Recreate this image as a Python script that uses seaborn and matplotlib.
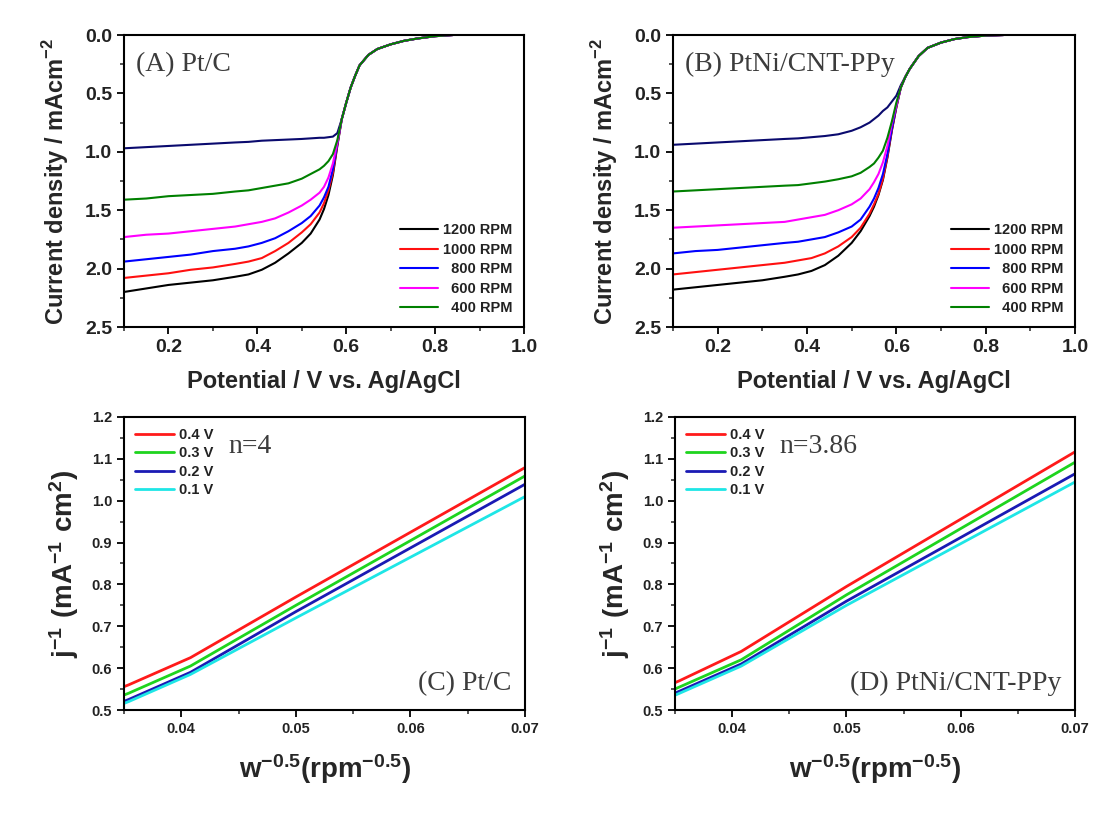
import numpy as np
import pandas as pd
import matplotlib
matplotlib.use("Agg")
import matplotlib.pyplot as plt
import seaborn as sns
from matplotlib.ticker import MultipleLocator, FormatStrFormatter

# ---------------- data: LSV curves (A) and (B) ----------------
potential = [0.10, 0.15, 0.20, 0.25, 0.30, 0.35, 0.38, 0.41, 0.44, 0.47, 0.50, 0.52,
             0.54, 0.55, 0.56, 0.57, 0.58, 0.59, 0.60, 0.61, 0.62, 0.63, 0.65, 0.67,
             0.70, 0.73, 0.76, 0.80, 0.84]

rpm_labels = ["1200 RPM", "1000 RPM", "800 RPM", "600 RPM", "400 RPM"]

# Pt/C
a_1200 = [2.20, 2.17, 2.14, 2.12, 2.10, 2.07, 2.05, 2.01, 1.95, 1.87, 1.78, 1.70,
          1.58, 1.49, 1.37, 1.20, 0.95, 0.72, 0.58, 0.45, 0.35, 0.26, 0.17, 0.12,
          0.08, 0.05, 0.03, 0.01, 0.00]
a_1000 = [2.08, 2.06, 2.04, 2.01, 1.99, 1.96, 1.94, 1.91, 1.85, 1.78, 1.69, 1.62,
          1.52, 1.44, 1.33, 1.18, 0.94, 0.72, 0.58, 0.45, 0.35, 0.26, 0.17, 0.12,
          0.08, 0.05, 0.03, 0.01, 0.00]
a_800 = [1.94, 1.92, 1.90, 1.88, 1.85, 1.83, 1.81, 1.78, 1.74, 1.68, 1.61, 1.55,
         1.46, 1.39, 1.30, 1.15, 0.93, 0.72, 0.58, 0.45, 0.35, 0.26, 0.17, 0.12,
         0.08, 0.05, 0.03, 0.01, 0.00]
a_600 = [1.73, 1.71, 1.70, 1.68, 1.66, 1.64, 1.62, 1.60, 1.57, 1.52, 1.46, 1.41,
         1.35, 1.30, 1.22, 1.10, 0.92, 0.72, 0.58, 0.45, 0.35, 0.26, 0.17, 0.12,
         0.08, 0.05, 0.03, 0.01, 0.00]
a_400 = [1.41, 1.40, 1.38, 1.37, 1.36, 1.34, 1.33, 1.31, 1.29, 1.27, 1.23, 1.19,
         1.15, 1.12, 1.08, 1.02, 0.90, 0.72, 0.58, 0.45, 0.35, 0.26, 0.17, 0.12,
         0.08, 0.05, 0.03, 0.01, 0.00]
a_low = [0.97, 0.96, 0.95, 0.94, 0.93, 0.92, 0.915, 0.905, 0.90, 0.895, 0.89, 0.885,
         0.88, 0.88, 0.875, 0.87, 0.84, 0.72, 0.58, 0.45, 0.35, 0.26, 0.17, 0.12,
         0.08, 0.05, 0.03, 0.01, 0.00]

# PtNi/CNT-PPy
b_1200 = [2.18, 2.16, 2.14, 2.12, 2.10, 2.07, 2.05, 2.02, 1.97, 1.89, 1.78, 1.68,
          1.55, 1.47, 1.37, 1.24, 1.05, 0.82, 0.62, 0.45, 0.36, 0.29, 0.18, 0.11,
          0.065, 0.035, 0.018, 0.005, 0.00]
b_1000 = [2.05, 2.03, 2.01, 1.99, 1.97, 1.95, 1.93, 1.91, 1.87, 1.81, 1.73, 1.65,
          1.53, 1.45, 1.36, 1.23, 1.04, 0.81, 0.62, 0.45, 0.36, 0.29, 0.18, 0.11,
          0.065, 0.035, 0.018, 0.005, 0.00]
b_800 = [1.87, 1.85, 1.84, 1.82, 1.80, 1.78, 1.77, 1.75, 1.73, 1.69, 1.64, 1.58,
         1.47, 1.40, 1.31, 1.19, 1.02, 0.80, 0.61, 0.45, 0.36, 0.29, 0.18, 0.11,
         0.065, 0.035, 0.018, 0.005, 0.00]
b_600 = [1.65, 1.64, 1.63, 1.62, 1.61, 1.60, 1.58, 1.56, 1.54, 1.50, 1.45, 1.40,
         1.32, 1.26, 1.19, 1.09, 0.95, 0.76, 0.60, 0.45, 0.36, 0.29, 0.18, 0.11,
         0.065, 0.035, 0.018, 0.005, 0.00]
b_400 = [1.34, 1.33, 1.32, 1.31, 1.30, 1.29, 1.285, 1.27, 1.255, 1.235, 1.21, 1.18,
         1.13, 1.10, 1.05, 0.99, 0.88, 0.74, 0.58, 0.45, 0.36, 0.29, 0.18, 0.11,
         0.065, 0.035, 0.018, 0.005, 0.00]
b_low = [0.94, 0.93, 0.92, 0.91, 0.90, 0.89, 0.885, 0.875, 0.865, 0.85, 0.82, 0.79,
         0.75, 0.72, 0.69, 0.65, 0.62, 0.57, 0.52, 0.43, 0.36, 0.29, 0.18, 0.11,
         0.065, 0.035, 0.018, 0.005, 0.00]

lsv_colors = ["#000000", "#ff1010", "#0000ff", "#ff00ff", "#008000"]
low_color = "#0a0a6e"

# ---------------- data: K-L plots (C) and (D) ----------------
w_inv = [0.0316, 0.0354, 0.0408, 0.0500, 0.0707]
kl_labels = ["0.4 V", "0.3 V", "0.2 V", "0.1 V"]
kl_colors = ["#ff1a1a", "#1ed41e", "#1a1ab4", "#1ee6e6"]

c_04 = [0.520, 0.560, 0.625, 0.770, 1.090]
c_03 = [0.500, 0.540, 0.605, 0.750, 1.070]
c_02 = [0.485, 0.525, 0.590, 0.735, 1.050]
c_01 = [0.480, 0.520, 0.585, 0.720, 1.020]

d_04 = [0.525, 0.570, 0.640, 0.795, 1.128]
d_03 = [0.510, 0.555, 0.620, 0.775, 1.103]
d_02 = [0.500, 0.545, 0.610, 0.760, 1.075]
d_01 = [0.495, 0.540, 0.605, 0.750, 1.055]

sns.set_theme(style="ticks")
plt.rcParams["font.family"] = ["Liberation Sans", "DejaVu Sans"]
plt.rcParams["mathtext.fontset"] = "custom"
plt.rcParams["mathtext.bf"] = "Liberation Sans:bold"
plt.rcParams["mathtext.rm"] = "Liberation Sans:bold"

fig = plt.figure(figsize=(11.2, 8.21), dpi=100)
W, H = 1120, 821
axA = fig.add_axes([124 / W, 1 - 327 / H, 400 / W, 292 / H])
axB = fig.add_axes([673 / W, 1 - 327 / H, 402 / W, 292 / H])
axC = fig.add_axes([124 / W, 1 - 710 / H, 401 / W, 293 / H])
axD = fig.add_axes([675 / W, 1 - 710 / H, 400 / W, 293 / H])

serif = ["Liberation Serif", "DejaVu Serif"]
fsp = "\u2007"


def style_axes(ax, tick_size):
    for s in ax.spines.values():
        s.set_linewidth(1.5)
        s.set_color("black")
    ax.tick_params(which="major", direction="out", length=5, width=1.3,
                   labelsize=tick_size, top=False, right=False, colors="black")
    ax.tick_params(which="minor", direction="out", length=3, width=1.1,
                   top=False, right=False)
    for lab in ax.get_xticklabels() + ax.get_yticklabels():
        lab.set_fontweight("bold")
        lab.set_color("#222222")
    ax.grid(False)


# ---------------- (A) and (B) ----------------
for ax, curves, low, tag in [(axA, [a_1200, a_1000, a_800, a_600, a_400], a_low, "(A) Pt/C"),
                             (axB, [b_1200, b_1000, b_800, b_600, b_400], b_low, "(B) PtNi/CNT-PPy")]:
    sns.lineplot(x=potential, y=low, color=low_color, lw=1.5, ax=ax,
                 sort=False, estimator=None, label="_nolegend_")
    for vals, col, lab in zip(curves, lsv_colors, rpm_labels):
        sns.lineplot(x=potential, y=vals, color=col, lw=1.5, ax=ax, sort=False,
                     estimator=None, label=lab.rjust(8, fsp))
    ax.set_xlim(0.1, 1.0)
    ax.set_ylim(2.5, 0.0)
    ax.xaxis.set_major_locator(MultipleLocator(0.2))
    ax.xaxis.set_minor_locator(MultipleLocator(0.1))
    ax.yaxis.set_major_locator(MultipleLocator(0.5))
    ax.yaxis.set_minor_locator(MultipleLocator(0.25))
    ax.xaxis.set_major_formatter(FormatStrFormatter("%.1f"))
    ax.yaxis.set_major_formatter(FormatStrFormatter("%.1f"))
    ax.set_xlabel("Potential / V vs. Ag/AgCl", fontsize=17, fontweight="bold", labelpad=10)
    ax.set_ylabel("Current density / mAcm$^{\\mathbf{-2}}$", fontsize=17,
                  fontweight="bold", labelpad=10)
    style_axes(ax, 14)
    h, l = ax.get_legend_handles_labels()
    leg = ax.legend(h, l, loc="lower right", frameon=False,
                    handlelength=2.6, handletextpad=0.35, labelspacing=0.38,
                    borderaxespad=0.4, prop={"weight": "bold", "size": 10.5})
    for t in leg.get_texts():
        t.set_color("#222222")
    ax.text(0.03, 0.9, tag, transform=ax.transAxes, fontsize=20,
            family=serif, color="#3c3c3c", va="center", ha="left")

# ---------------- (C) and (D) ----------------
for ax, series, tag, n_txt in [(axC, [c_04, c_03, c_02, c_01], "(C) Pt/C", "n=4"),
                               (axD, [d_04, d_03, d_02, d_01], "(D) PtNi/CNT-PPy", "n=3.86")]:
    for vals, col, lab in zip(series, kl_colors, kl_labels):
        sns.lineplot(x=w_inv, y=vals, color=col, lw=2.0, ax=ax, sort=False,
                     estimator=None, label=lab)
    ax.set_xlim(0.035, 0.07)
    ax.set_ylim(0.5, 1.2)
    ax.xaxis.set_major_locator(MultipleLocator(0.01))
    ax.xaxis.set_minor_locator(MultipleLocator(0.005))
    ax.yaxis.set_major_locator(MultipleLocator(0.1))
    ax.yaxis.set_minor_locator(MultipleLocator(0.05))
    ax.xaxis.set_major_formatter(FormatStrFormatter("%.2f"))
    ax.yaxis.set_major_formatter(FormatStrFormatter("%.1f"))
    ax.set_xlabel(r"$\mathbf{w^{-0.5}(rpm^{-0.5})}$", fontsize=20, labelpad=12)
    ax.set_ylabel(r"$\mathbf{j^{-1}\ (mA^{-1}\ cm^{2})}$", fontsize=20, labelpad=8)
    style_axes(ax, 10.5)
    leg = ax.legend(loc="upper left", frameon=False, handlelength=2.7,
                    handletextpad=0.3, labelspacing=0.3, borderaxespad=0.35,
                    prop={"weight": "bold", "size": 10.5})
    for t in leg.get_texts():
        t.set_color("#222222")
    ax.text(0.26, 0.9, n_txt, transform=ax.transAxes, fontsize=20,
            family=serif, color="#3c3c3c", va="center", ha="left")
    ax.text(0.965, 0.09, tag, transform=ax.transAxes, fontsize=20,
            family=serif, color="#3c3c3c", va="center", ha="right")

fig.savefig("out.png", dpi=100)
